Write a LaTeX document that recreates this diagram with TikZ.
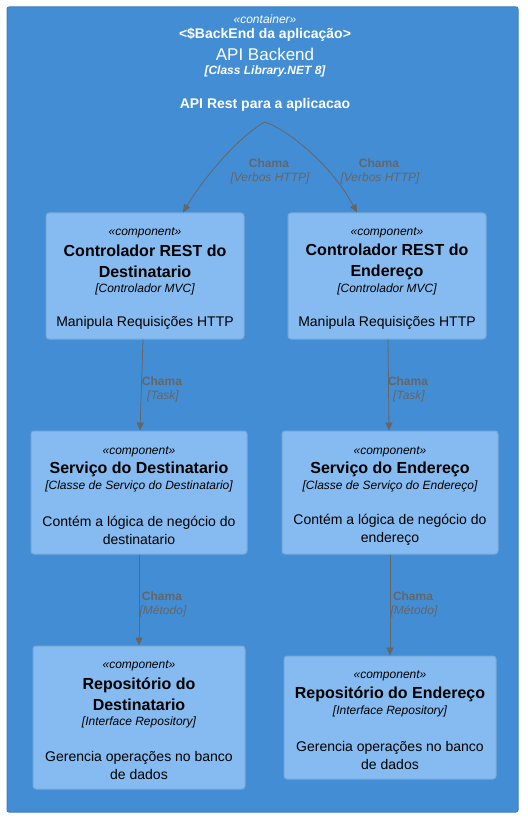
\documentclass[tikz,border=0pt]{standalone}
\usepackage{fontspec}
\setmainfont{Liberation Sans}
\usetikzlibrary{arrows.meta,calc}
\definecolor{contfill}{HTML}{438DD5}
\definecolor{contborder}{HTML}{3C7FC0}
\definecolor{compfill}{HTML}{85BBF0}
\definecolor{compborder}{HTML}{78A8D8}
\definecolor{relgray}{HTML}{666666}
\tikzset{
  cont/.style={draw=contborder, fill=contfill, line width=1pt, rounded corners=2pt},
  comp/.style={draw=compborder, fill=compfill, line width=1pt, rounded corners=3pt, inner sep=0pt},
  txt/.style={inner sep=0pt, align=center, yshift=-2pt},
  stereo/.style={txt, font=\fontsize{12}{14}\selectfont\itshape},
  ctitle/.style={txt, font=\fontsize{16}{21}\selectfont\bfseries},
  ctech/.style={txt, font=\fontsize{12}{14}\selectfont\itshape},
  cdesc/.style={txt, font=\fontsize{14}{18}\selectfont},
  rellab/.style={txt, text=relgray, font=\fontsize{12}{14}\selectfont\bfseries},
  reltech/.style={txt, text=relgray, font=\fontsize{12}{14}\selectfont\itshape},
  rel/.style={draw=relgray, line width=0.8pt, -{Triangle[length=8pt,width=7pt]}},
}
\begin{document}
\begin{tikzpicture}[x=1pt,y=-1pt]
\useasboundingbox (0,0) rectangle (527,818);
\fill[white] (0,0) rectangle (527,818);
% container
\node[cont, minimum width=511pt, minimum height=805pt, inner sep=0pt] (api) at (262.5,409.5) {};
\node[txt, text=white, font=\fontsize{12}{14}\selectfont\itshape] (cst) at (265,17) {«container»};
\node[txt, text=white, font=\fontsize{14}{16}\selectfont\bfseries] (cal) at (265,33) {<\$BackEnd da aplicação>};
\node[txt, text=white, font=\fontsize{17}{20}\selectfont] (cname) at (265,52) {API Backend};
\node[txt, text=white, font=\fontsize{12}{14}\selectfont\bfseries\itshape] (ctec) at (265,69) {[Class Library.NET 8]};
\node[txt, text=white, font=\fontsize{14}{16}\selectfont\bfseries] (cdes) at (265,103) {API Rest para a aplicacao};
\coordinate (src) at (265,122);

% Controlador Destinatario
\node[comp, minimum width=198pt, minimum height=126pt] (cd) at (145,276) {};
\node[stereo] at (145,231) {«component»};
\node[ctitle] at (145,259.5) {Controlador REST do\\Destinatario};
\node[ctech] at (145,287) {[Controlador MVC]};
\node[cdesc] at (145,321) {Manipula Requisições HTTP};

% Controlador Endereco
\node[comp, minimum width=198pt, minimum height=126pt] (ce) at (387,276) {};
\node[stereo] at (387,231) {«component»};
\node[ctitle] at (387,259.5) {Controlador REST do\\Endereço};
\node[ctech] at (387,287) {[Controlador MVC]};
\node[cdesc] at (387,321) {Manipula Requisições HTTP};

% Servico Destinatario
\node[comp, minimum width=216pt, minimum height=123pt] (sd) at (139,492.5) {};
\node[stereo] at (139,450) {«component»};
\node[ctitle] at (139,467) {Serviço do Destinatario};
\node[ctech] at (139,484) {[Classe de Serviço do Destinatario]};
\node[cdesc] at (139,528) {Contém a lógica de negócio do\\destinatario};

% Servico Endereco
\node[comp, minimum width=216pt, minimum height=123pt] (se) at (390,492.5) {};
\node[stereo] at (390,450) {«component»};
\node[ctitle] at (390,467) {Serviço do Endereço};
\node[ctech] at (390,484) {[Classe de Serviço do Endereço]};
\node[cdesc] at (390,528) {Contém a lógica de negócio do\\endereço};

% Repositorio Destinatario
\node[comp, minimum width=212pt, minimum height=143pt] (rd) at (139,717.5) {};
\node[stereo] at (139,664) {«component»};
\node[ctitle] at (139,692.5) {Repositório do\\Destinatario};
\node[ctech] at (139,720) {[Interface Repository]};
\node[cdesc] at (139,763) {Gerencia operações no banco\\de dados};

% Repositorio Endereco
\node[comp, minimum width=212pt, minimum height=123pt] (re) at (390,717.5) {};
\node[stereo] at (390,674) {«component»};
\node[ctitle] at (390,692) {Repositório do Endereço};
\node[ctech] at (390,709) {[Interface Repository]};
\node[cdesc] at (390,753) {Gerencia operações no banco\\de dados};

% relations
\draw[rel] (src) .. controls (242,134) and (206,174) .. ([xshift=38pt]cd.north);
\draw[rel] (src) .. controls (290,131) and (332,166) .. ([xshift=-30pt]ce.north);
\node[rellab] at (269,161) {Chama};
\node[reltech] at (270,176) {[Verbos HTTP]};
\node[rellab] at (379,161) {Chama};
\node[reltech] at (380,176) {[Verbos HTTP]};

\draw[rel] ([xshift=-2pt]cd.south) -- ([xshift=1pt]sd.north);
\node[rellab] at (162,379) {Chama};
\node[reltech] at (163,394) {[Task]};
\draw[rel] ([xshift=1pt]ce.south) -- ([xshift=-1pt]se.north);
\node[rellab] at (408,379) {Chama};
\node[reltech] at (409,394) {[Task]};

\draw[rel] (sd.south) -- (rd.north);
\node[rellab] at (162,594) {Chama};
\node[reltech] at (163,609) {[Método]};
\draw[rel] (se.south) -- (re.north);
\node[rellab] at (413,594) {Chama};
\node[reltech] at (414,609) {[Método]};
\end{tikzpicture}
\end{document}
